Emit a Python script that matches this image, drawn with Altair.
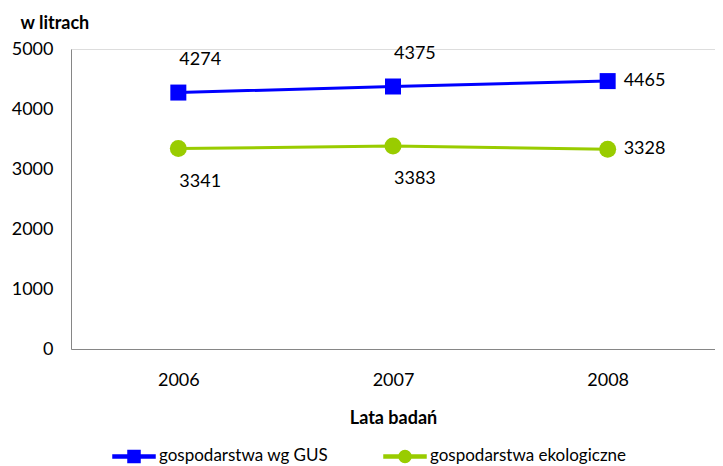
import altair as alt
import pandas as pd

years = ["2006", "2007", "2008"]
series_names = ["gospodarstwa wg GUS", "gospodarstwa ekologiczne"]
gus_values = [4274, 4375, 4465]
eko_values = [3341, 3383, 3328]
y_ticks = [0, 1000, 2000, 3000, 4000, 5000]
colors = ["#0000FF", "#99CC00"]

rows = []
for yr, v in zip(years, gus_values):
    rows.append({"rok": yr, "litry": v, "seria": series_names[0]})
for yr, v in zip(years, eko_values):
    rows.append({"rok": yr, "litry": v, "seria": series_names[1]})
df = pd.DataFrame(rows)

FONT = "Lato"
color_scale = alt.Scale(domain=series_names, range=colors)

sq_path = ("M-1,-0.071H-0.28V0.071H-1Z "
           "M-0.286,-0.286H0.286V0.286H-0.286Z "
           "M0.28,-0.071H1V0.071H0.28Z")
ci_path = ("M-1,-0.071H-0.28V0.071H-1Z "
           "M0.286,0A0.286,0.286 0 1,1 -0.286,0A0.286,0.286 0 1,1 0.286,0Z "
           "M0.28,-0.071H1V0.071H0.28Z")

x_enc = alt.X(
    "rok:N",
    sort=years,
    scale=alt.Scale(type="point", padding=0.5),
    axis=alt.Axis(
        title="Lata badań", labelAngle=0, ticks=False, grid=False,
        domainColor="#868686", domainWidth=1, labelPadding=22,
        labelFont=FONT, labelFontSize=18, labelColor="#000000",
        titleFont=FONT, titleFontSize=18, titleFontWeight="bold",
        titleColor="#000000", titleY=74, titleBaseline="alphabetic",
    ),
)
y_enc = alt.Y(
    "litry:Q",
    scale=alt.Scale(domain=[0, 5000], nice=False),
    axis=alt.Axis(
        values=y_ticks, format="d", title="w litrach", titleAngle=0, titleAlign="left",
        titleX=-51, titleY=-21, titleBaseline="alphabetic",
        titleFont=FONT, titleFontSize=18, titleFontWeight="bold",
        titleColor="#000000", grid=False, ticks=False, labelPadding=18,
        labelFont=FONT, labelFontSize=18, labelColor="#000000",
        domainColor="#868686", domainWidth=1,
    ),
)

base = alt.Chart(df).encode(x=x_enc, y=y_enc)

leg = dict(
    title=None, orient="none", legendX=41, legendY=385, direction="horizontal",
    symbolSize=1764, symbolOpacity=1, labelFont=FONT, labelFontSize=17,
    labelColor="#000000", labelOffset=3, columnPadding=52, padding=0,
    labelLimit=400,
)
leg_color = alt.Color("seria:N", scale=color_scale, legend=alt.Legend(**leg))
helper = base.transform_filter("false").mark_point(filled=True, opacity=1).encode(
    color=leg_color,
    shape=alt.Shape("seria:N", scale=alt.Scale(domain=series_names, range=[sq_path, ci_path]),
                    legend=alt.Legend(**leg)),
)

no_leg = alt.Color("seria:N", scale=color_scale, legend=None)
line = base.mark_line(strokeWidth=3).encode(color=no_leg)
squares = base.transform_filter(alt.datum.seria == series_names[0]).mark_point(
    shape="square", filled=True, size=256, opacity=1).encode(color=no_leg)
circles = base.transform_filter(alt.datum.seria == series_names[1]).mark_point(
    shape="circle", filled=True, size=289, opacity=1).encode(color=no_leg)

txt = dict(fontSize=18, font=FONT, color="#000000")
lab_above = base.transform_filter(
    (alt.datum.seria == series_names[0]) & (alt.datum.rok != years[-1])
).mark_text(align="left", dx=1, dy=-33, **txt).encode(text="litry:Q")
lab_below = base.transform_filter(
    (alt.datum.seria == series_names[1]) & (alt.datum.rok != years[-1])
).mark_text(align="left", dx=1, dy=33, **txt).encode(text="litry:Q")
lab_right = base.transform_filter(alt.datum.rok == years[-1]).mark_text(
    align="left", dx=16, dy=0, **txt).encode(text="litry:Q")

chart = alt.layer(helper, line, squares, circles, lab_above, lab_below, lab_right).properties(
    width=644, height=300,
    autosize=alt.AutoSizeParams(type="none"),
    padding={"left": 63, "top": 41, "right": 0, "bottom": 117},
).configure_view(stroke=None).configure(background="#ffffff")

chart.save("out.html", embed_options={"renderer": "svg", "actions": False})
